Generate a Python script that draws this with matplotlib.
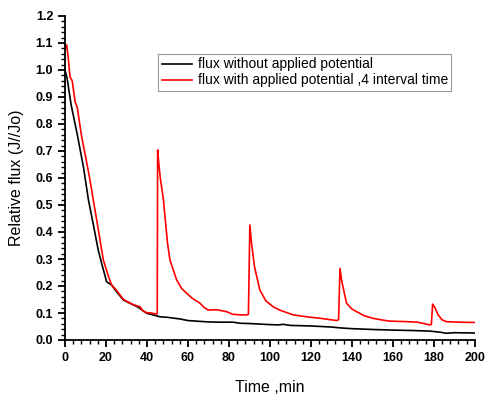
import matplotlib
matplotlib.use('Agg')
import matplotlib.pyplot as plt
from matplotlib.ticker import MultipleLocator, AutoMinorLocator

plt.rcParams['font.family'] = ['Liberation Sans', 'DejaVu Sans']

# flux without applied potential
t_black = [0, 1, 3, 6, 9, 11.4, 14, 16.2, 18, 20.3, 21, 22.7, 25, 28.5, 32, 36, 39.8, 42,
           46.3, 50, 56, 60, 65.8, 70, 76, 82, 85.4, 90, 95, 100, 104, 106.5, 110, 120,
           130, 134, 140, 150, 158.5, 170, 178, 183, 186, 190, 200]
y_black = [1.0, 0.97, 0.87, 0.76, 0.64, 0.52, 0.42, 0.333, 0.28, 0.216, 0.212, 0.204, 0.18,
           0.148, 0.135, 0.12, 0.099, 0.095, 0.086, 0.084, 0.078, 0.072, 0.069, 0.067, 0.066,
           0.066, 0.062, 0.061, 0.059, 0.057, 0.056, 0.058, 0.054, 0.052, 0.048, 0.045,
           0.042, 0.039, 0.037, 0.035, 0.033, 0.029, 0.025, 0.027, 0.026]

# flux with applied potential, 4 interval time
t_red = [0, 0.8, 1.5, 2.4, 3.5, 4.9, 6, 8.1, 10, 12, 13.8, 16, 18.7, 21, 22.7, 25, 28.5, 31,
         33.5, 36.6, 38, 39.8, 42, 44.7, 45.0, 45.2, 45.8, 46.5, 48, 50, 51.2, 54.5, 57, 59.4,
         62, 65.9, 68, 69.9, 74, 78.8, 82, 86, 88.6, 89.5, 90.2, 91, 92.5, 95.1, 98, 101.6,
         105, 111.4, 117.9, 125, 132.5, 133.5, 134.2, 135, 137.4, 140, 142.3, 146, 150.4,
         158, 166.7, 172, 178, 178.8, 179.4, 180.5, 182.1, 184, 186, 192, 200]
y_red = [1.08, 1.093, 1.05, 0.975, 0.96, 0.883, 0.86, 0.753, 0.68, 0.6, 0.518, 0.42, 0.296,
         0.24, 0.204, 0.185, 0.15, 0.14, 0.13, 0.123, 0.108, 0.101, 0.1, 0.096, 0.098, 0.704,
         0.65, 0.6, 0.52, 0.36, 0.296, 0.222, 0.19, 0.173, 0.155, 0.136, 0.12, 0.111, 0.112,
         0.105, 0.095, 0.093, 0.093, 0.095, 0.426, 0.36, 0.27, 0.185, 0.145, 0.123, 0.11,
         0.093, 0.086, 0.08, 0.072, 0.075, 0.265, 0.22, 0.136, 0.115, 0.105, 0.09, 0.08,
         0.07, 0.068, 0.066, 0.056, 0.058, 0.133, 0.12, 0.093, 0.075, 0.068, 0.066, 0.065]

fig = plt.figure(figsize=(4.89, 4.0), dpi=100)
ax = fig.add_axes([0.133, 0.15, 0.838, 0.81])

ax.plot(t_black, y_black, color='black', lw=1.2, label='flux without applied potential')
ax.plot(t_red, y_red, color='red', lw=1.2, label='flux with applied potential ,4 interval time')

ax.set_xlim(0, 200)
ax.set_ylim(0, 1.2)
ax.xaxis.set_major_locator(MultipleLocator(20))
ax.xaxis.set_minor_locator(AutoMinorLocator(5))
ax.yaxis.set_major_locator(MultipleLocator(0.1))
ax.yaxis.set_minor_locator(AutoMinorLocator(5))
ax.yaxis.set_major_formatter(matplotlib.ticker.FormatStrFormatter('%.1f'))

for s in ['top', 'right']:
    ax.spines[s].set_visible(False)
for s in ['left', 'bottom']:
    ax.spines[s].set_linewidth(1.3)

ax.tick_params(which='major', direction='out', length=5, width=1.3, labelsize=9)
ax.tick_params(which='minor', direction='out', length=3, width=1.0)
for lab in ax.get_xticklabels() + ax.get_yticklabels():
    lab.set_fontweight('bold')

ax.set_xlabel('Time ,min', fontsize=11.5, labelpad=12)
ax.set_ylabel('Relative flux (J//Jo)', fontsize=11.5, labelpad=8)

leg = ax.legend(loc='upper left', bbox_to_anchor=(0.227, 0.883), borderaxespad=0,
                fontsize=10, fancybox=False, framealpha=1, edgecolor='#999999',
                handlelength=2.2, borderpad=0.25, labelspacing=0.15, handletextpad=0.4)
leg.get_frame().set_linewidth(0.8)

fig.savefig('out.png', dpi=100)
